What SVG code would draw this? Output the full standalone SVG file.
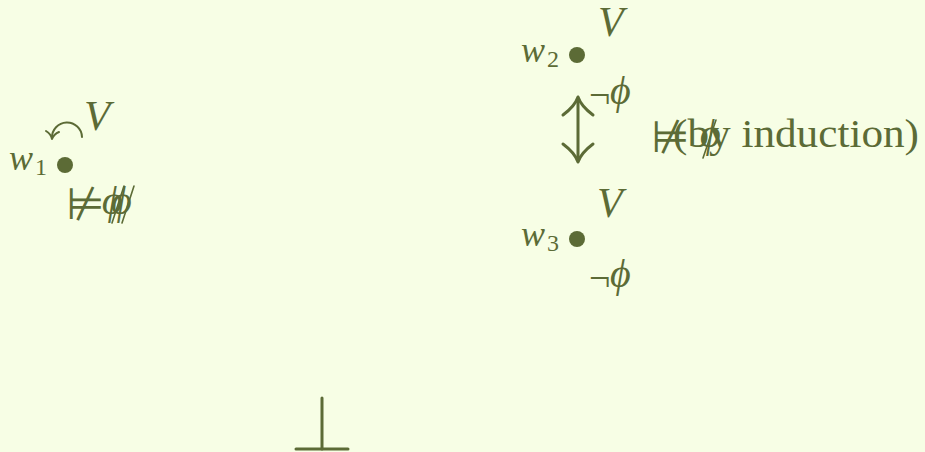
<svg xmlns="http://www.w3.org/2000/svg" width="925" height="452" viewBox="0 0 925 452">
<style>
.t{font-family:"Liberation Serif","DejaVu Serif",serif;fill:#5c6b36}
.m{font-style:italic}
.s{font-family:"DejaVu Sans",sans-serif;fill:#5c6b36}
.ln{stroke:#5c6b36;fill:none;stroke-linecap:round;stroke-linejoin:round}
.dot{fill:#5c6b36}
</style>
<rect width="925" height="452" fill="#f7fee5"/>
<g id="w1">
<text class="t m" x="9" y="170" font-size="36">w</text>
<text class="t" x="35" y="175" font-size="24">1</text>
<circle class="dot" cx="65" cy="165" r="8"/>
<text class="t m" x="84" y="130" font-size="43">V</text>
<text class="s" x="66" y="219" font-size="44">⊭</text>
<text class="t m" x="102" y="214" font-size="40">ϕ</text>
<text class="t m" x="111" y="214" font-size="40">ϕ</text>
<line class="ln" x1="112" y1="223" x2="124" y2="186" stroke-width="1.6"/>
<line class="ln" x1="122" y1="223" x2="134" y2="186" stroke-width="1.6"/>
</g>
<g id="w2">
<text class="t m" x="521" y="62" font-size="36">w</text>
<text class="t" x="547" y="67" font-size="24">2</text>
<circle class="dot" cx="577" cy="55" r="8"/>
<text class="t m" x="598" y="36" font-size="42">V</text>
<text class="t" x="589" y="108" font-size="38">¬</text>
<text class="t m" x="610" y="104" font-size="40">ϕ</text>
</g>
<g id="w3">
<text class="t m" x="521" y="246" font-size="36">w</text>
<text class="t" x="547" y="251" font-size="24">3</text>
<circle class="dot" cx="577" cy="239" r="8"/>
<text class="t m" x="597" y="217" font-size="42">V</text>
<text class="t" x="589" y="291" font-size="38">¬</text>
<text class="t m" x="610" y="287" font-size="40">ϕ</text>
</g>
<g id="label">
<text class="s" x="651" y="152" font-size="44">⊭</text>
<text class="t" x="673" y="147" font-size="40" textLength="246" lengthAdjust="spacingAndGlyphs">(by induction)</text>
<text class="t m" x="700" y="147" font-size="40">ϕ</text>
<line class="ln" x1="703" y1="158" x2="716" y2="120" stroke-width="1.6"/>
</g>
<g id="bottom">
<line class="ln" x1="322" y1="398" x2="322" y2="449" stroke-width="3"/>
<line class="ln" x1="296" y1="449" x2="348" y2="449" stroke-width="3"/>
</g>
<g id="connectors">
<path class="ln" d="M82,137 A15,15 0 1 0 52,138" stroke-width="2"/>
<path class="ln" d="M46,131 Q51,134 52,139 Q54,134 59,132" stroke-width="2"/>
<line class="ln" x1="578" y1="99" x2="578" y2="160" stroke-width="3"/>
<path class="ln" d="M563,115 Q575,106 578,97 Q581,106 593,115" stroke-width="3"/>
<path class="ln" d="M563,144 Q575,153 578,162 Q581,153 593,144" stroke-width="3"/>
</g>
</svg>
